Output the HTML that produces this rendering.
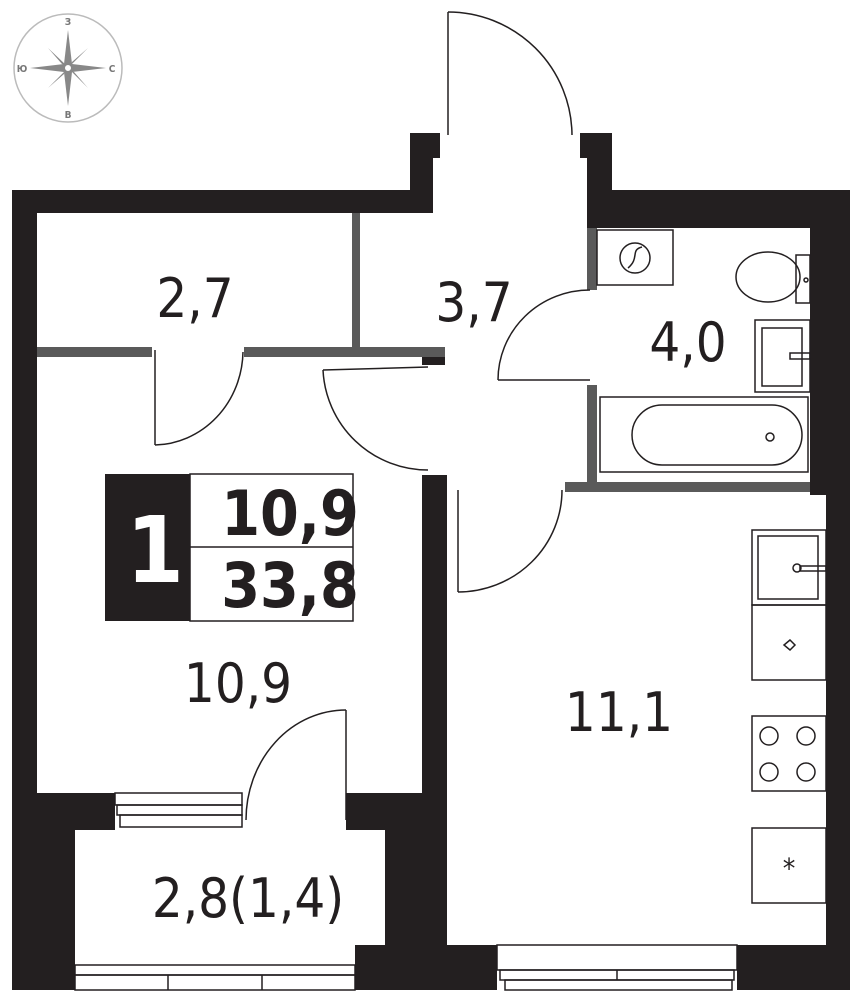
<!DOCTYPE html>
<html><head><meta charset="utf-8"><style>
html,body{margin:0;padding:0;background:#fff}
svg{display:block}
text{font-family:"DejaVu Sans Condensed","DejaVu Sans","Liberation Sans",sans-serif}
</style></head><body>
<svg width="862" height="1000" viewBox="0 0 862 1000" xmlns="http://www.w3.org/2000/svg">
<g stroke="#bbb" fill="none" stroke-width="1.5">
<circle cx="68" cy="68" r="54"/>
</g>
<g fill="#888">
<polygon points="68,30 72,64 68,68 64,64"/>
<polygon points="68,106 72,72 68,68 64,72"/>
<polygon points="30,68 64,64 68,68 64,72"/>
<polygon points="106,68 72,64 68,68 72,72"/>
<polygon points="48,48 67,66 62,64" />
<polygon points="88,48 70,66 72,62"/>
<polygon points="48,88 66,70 64,74"/>
<polygon points="88,88 70,70 74,72"/>
</g>
<circle cx="68" cy="68" r="4" fill="#fff" stroke="#888" stroke-width="2"/>
<g fill="#777" font-size="10" font-weight="bold" text-anchor="middle">
<text x="68" y="25">З</text><text x="68" y="118">В</text>
<text x="22" y="72">Ю</text><text x="112" y="72">С</text>
</g>

<g fill="#231f20">
<rect x="12" y="190" width="25" height="800"/>
<rect x="12" y="190" width="421" height="23"/>
<rect x="410" y="133" width="23" height="80"/>
<rect x="410" y="133" width="30" height="25"/>
<rect x="587" y="133" width="25" height="95"/>
<rect x="580" y="133" width="30" height="25"/>
<rect x="587" y="190" width="263" height="38"/>
<rect x="810" y="190" width="40" height="305"/>
<rect x="826" y="490" width="24" height="500"/>
<rect x="422" y="475" width="25" height="515"/>
<rect x="12" y="793" width="103" height="37"/>
<rect x="346" y="793" width="101" height="37"/>
<rect x="12" y="793" width="63" height="197"/>
<rect x="385" y="793" width="62" height="152"/>
<rect x="355" y="945" width="142" height="45"/>
<rect x="737" y="945" width="113" height="45"/>
<rect x="422" y="355" width="23" height="10"/>
</g>
<g fill="#5a5a5a">
<rect x="352" y="213" width="8" height="137"/>
<rect x="37" y="347" width="115" height="10"/>
<rect x="244" y="347" width="201" height="10"/>
<rect x="587" y="228" width="10" height="62"/>
<rect x="587" y="385" width="10" height="100"/>
<rect x="565" y="482" width="245" height="10"/>
</g>
<g fill="none" stroke="#231f20" stroke-width="1.5">
<line x1="448" y1="12" x2="448" y2="135"/>
<path d="M448,12 A124,124 0 0 1 572,135"/>
<line x1="155" y1="350" x2="155" y2="445"/>
<path d="M155,445 A90,95 0 0 0 243,352"/>
<line x1="498" y1="380" x2="590" y2="380"/>
<path d="M498,380 A92,90 0 0 1 590,290"/>
<line x1="323" y1="370" x2="428" y2="367"/>
<path d="M323,370 A105,105 0 0 0 428,470"/>
<line x1="458" y1="490" x2="458" y2="592"/>
<path d="M458,592 A104,102 0 0 0 562,490"/>
<line x1="346" y1="710" x2="346" y2="820"/>
<path d="M346,710 A100,110 0 0 0 246,820"/>
<rect x="115" y="793" width="127" height="12"/>
<rect x="117" y="805" width="125" height="10"/>
<rect x="120" y="815" width="122" height="12"/>
<rect x="75" y="965" width="280" height="10"/>
<rect x="75" y="975" width="280" height="15"/>
<line x1="168" y1="975" x2="168" y2="990"/><line x1="262" y1="975" x2="262" y2="990"/>
<rect x="497" y="945" width="240" height="25"/>
<rect x="500" y="970" width="234" height="10"/>
<rect x="505" y="980" width="227" height="10"/>
<line x1="617" y1="970" x2="617" y2="980"/>
<rect x="597" y="230" width="76" height="55"/>
<circle cx="635" cy="258" r="15"/>
<path d="M628,268 C640,258 630,250 642,247"/>
<ellipse cx="768" cy="277" rx="32" ry="25"/>
<rect x="796" y="255" width="14" height="48"/>
<circle cx="806" cy="280" r="2"/>
<rect x="755" y="320" width="55" height="72"/>
<rect x="762" y="328" width="40" height="58"/>
<rect x="790" y="353" width="20" height="6"/>
<rect x="600" y="397" width="208" height="75"/>
<rect x="632" y="405" width="170" height="60" rx="30"/>
<circle cx="770" cy="437" r="4"/>
<rect x="752" y="530" width="74" height="75"/>
<rect x="758" y="536" width="60" height="63"/>
<rect x="800" y="566" width="26" height="5"/>
<circle cx="797" cy="568" r="4"/>
<rect x="752" y="605" width="74" height="75"/>
<path d="M790,640 L784,645 L790,650 L795,645 Z"/>
<rect x="752" y="716" width="74" height="75"/>
<circle cx="769" cy="736" r="9"/><circle cx="806" cy="736" r="9"/>
<circle cx="769" cy="772" r="9"/><circle cx="806" cy="772" r="9"/>
<rect x="752" y="828" width="74" height="75"/>
<rect x="190" y="474" width="163" height="147"/>
<line x1="190" y1="547" x2="353" y2="547"/>
</g>
<text x="789" y="878" font-size="28" text-anchor="middle" fill="#231f20">*</text>
<rect x="105" y="474" width="85" height="147" fill="#231f20"/>
<text x="155" y="582" font-size="92" font-weight="bold" text-anchor="middle" fill="#fff">1</text>
<g font-weight="bold" font-size="62" fill="#231f20" text-anchor="middle">
<text x="290" y="535">10,9</text>
<text x="290" y="607">33,8</text>
</g>
<g font-size="54" fill="#231f20" text-anchor="middle">
<text x="195" y="317">2,7</text>
<text x="474" y="321">3,7</text>
<text x="688" y="361">4,0</text>
<text x="238" y="702">10,9</text>
<text x="619" y="731">11,1</text>
<text x="248" y="917">2,8(1,4)</text>
</g>
</svg>
</body></html>
